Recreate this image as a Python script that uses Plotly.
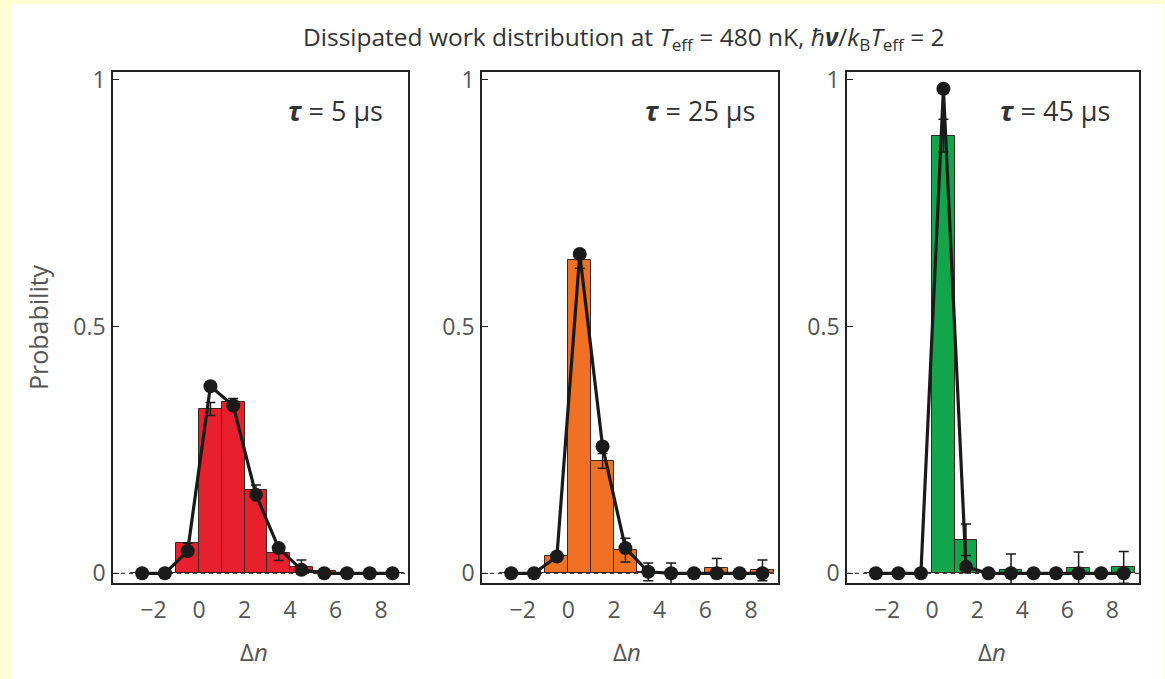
import plotly.graph_objects as go

# Phonon-number change bins (each bar covers [dn, dn + 1])
dn = [-3, -2, -1, 0, 1, 2, 3, 4, 5, 6, 7, 8]

# tau = 5 us
meas_5 = [0, 0, 0.061, 0.333, 0.348, 0.169, 0.041, 0.013, 0.005, 0, 0, 0]
err_5 = [0, 0, 0, 0.013, 0.006, 0.010, 0.015, 0.014, 0, 0, 0, 0]
theo_5 = [0, 0, 0.045, 0.379, 0.340, 0.159, 0.051, 0.007, 0, 0, 0, 0]

# tau = 25 us
meas_25 = [0, 0, 0.035, 0.635, 0.228, 0.047, 0.003, 0, 0, 0.010, 0, 0.006]
err_25 = [0, 0, 0, 0.017, 0.015, 0.024, 0.018, 0.021, 0, 0.020, 0, 0.021]
theo_25 = [0, 0, 0.034, 0.647, 0.257, 0.051, 0.003, 0, 0, 0, 0, 0]

# tau = 45 us
meas_45 = [0, 0, 0, 0.887, 0.068, 0, 0.006, 0, 0, 0.010, 0, 0.012]
err_45 = [0, 0, 0, 0.033, 0.032, 0, 0.033, 0, 0, 0.033, 0, 0.032]
theo_45 = [0, 0, 0, 0.982, 0.013, 0, 0, 0, 0, 0, 0, 0]

panel_labels = ["5", "25", "45"]
bar_colors = ["#E8202E", "#F07124", "#12A54B"]
x_tickvals = [-2, 0, 2, 4, 6, 8]
x_ticktext = ["\u22122", "0", "2", "4", "6", "8"]
y_tickvals = [0, 0.5, 1]
y_ticktext = ["0", "0.5", "1"]

W, H = 1165, 679
FONT = "Open Sans"
# panel boxes in pixels: (left, right)
boxes = [(113, 408), (482, 778), (847, 1139)]
box_top, box_bottom = 72, 583
x_range = [-3.78, 9.18]
y_range = [-0.0197, 1.016]

series = [(meas_5, err_5, theo_5), (meas_25, err_25, theo_25), (meas_45, err_45, theo_45)]
centers = [d + 0.5 for d in dn]

fig = go.Figure()
for i, ((meas, err, theo), col) in enumerate(zip(series, bar_colors)):
    xa = "x" if i == 0 else f"x{i+1}"
    ya = "y" if i == 0 else f"y{i+1}"
    fig.add_trace(go.Bar(
        x=centers, y=meas, width=1, xaxis=xa, yaxis=ya,
        marker=dict(color=col, line=dict(color="#3a2626", width=1)),
        error_y=dict(type="data", array=err, visible=True, color="#1a1a1a",
                     thickness=1.5, width=5),
        showlegend=False,
    ))
    fig.add_trace(go.Scatter(
        x=centers, y=theo, xaxis=xa, yaxis=ya, mode="lines+markers",
        line=dict(color="#1a1a1a", width=3.2),
        marker=dict(color="#1a1a1a", size=14),
        showlegend=False,
    ))
    # dashed zero reference
    fig.add_shape(type="line", xref=xa, yref=ya, x0=x_range[0], x1=x_range[1],
                  y0=0, y1=0, line=dict(color="#444", width=1.2, dash="4px,4px"),
                  layer="below")

axis_common = dict(showline=True, linecolor="#222", linewidth=1.5, mirror=True,
                   showgrid=False, zeroline=False, fixedrange=True)

layout = dict(
    width=W, height=H,
    margin=dict(l=0, r=0, t=0, b=0),
    paper_bgcolor="#FFFDD2", plot_bgcolor="white",
    bargap=0,
    font=dict(family=FONT, color="#555", size=23),
)
for i, (l, r) in enumerate(boxes):
    sx = "" if i == 0 else str(i + 1)
    layout[f"xaxis{sx}"] = dict(
        domain=[l / W, r / W], range=x_range, anchor=f"y{sx}",
        tickvals=x_tickvals, ticktext=x_ticktext, ticks="",
        tickfont=dict(size=23, color="#555"),
        ticklabelstandoff=6, automargin=False, **axis_common)
    layout[f"yaxis{sx}"] = dict(
        domain=[1 - box_bottom / H, 1 - box_top / H], range=y_range, anchor=f"x{sx}",
        tickvals=y_tickvals, ticktext=y_ticktext, ticks="inside", ticklen=6,
        tickwidth=1.2, tickcolor="#222", ticklabelstandoff=1,
        tickfont=dict(size=23, color="#555"),
        automargin=False, **axis_common)
fig.update_layout(**layout)

# white page area inside the yellow border
fig.add_shape(type="rect", xref="paper", yref="paper", x0=12 / W, x1=1163 / W,
              y0=0, y1=1 - 4 / H, fillcolor="white", line=dict(width=0), layer="below")

ann = []
ann.append(dict(
    text="Dissipated work distribution at <i>T</i><sub>eff</sub> = 480 nK, "
         "<i>ħ</i><b><i>ν</i></b>/<i>k</i><sub>B</sub><i>T</i><sub>eff</sub> = 2",
    x=624 / W, y=1 - 38 / H, xref="paper", yref="paper", showarrow=False,
    font=dict(size=24.5, color="#333", family=FONT), xanchor="center", yanchor="middle"))
ann.append(dict(text="Probability", x=38 / W, y=1 - 327 / H, xref="paper", yref="paper",
                showarrow=False, textangle=-90, font=dict(size=25, color="#555", family=FONT),
                xanchor="center", yanchor="middle"))
tau_x = [335, 700, 1055]
dn_x = [254, 627, 992]
for lab, tx, nx in zip(panel_labels, tau_x, dn_x):
    ann.append(dict(text=f"<b><i>τ</i></b> = {lab} μs", x=tx / W, y=1 - 111 / H,
                    xref="paper", yref="paper", showarrow=False,
                    font=dict(size=27, color="#333", family=FONT),
                    xanchor="center", yanchor="middle"))
    ann.append(dict(text="Δ<i>n</i>", x=nx / W, y=1 - 651 / H, xref="paper", yref="paper",
                    showarrow=False, font=dict(size=24, color="#555", family=FONT),
                    xanchor="center", yanchor="middle"))
fig.update_layout(annotations=ann)

fig.write_html("out.html")
